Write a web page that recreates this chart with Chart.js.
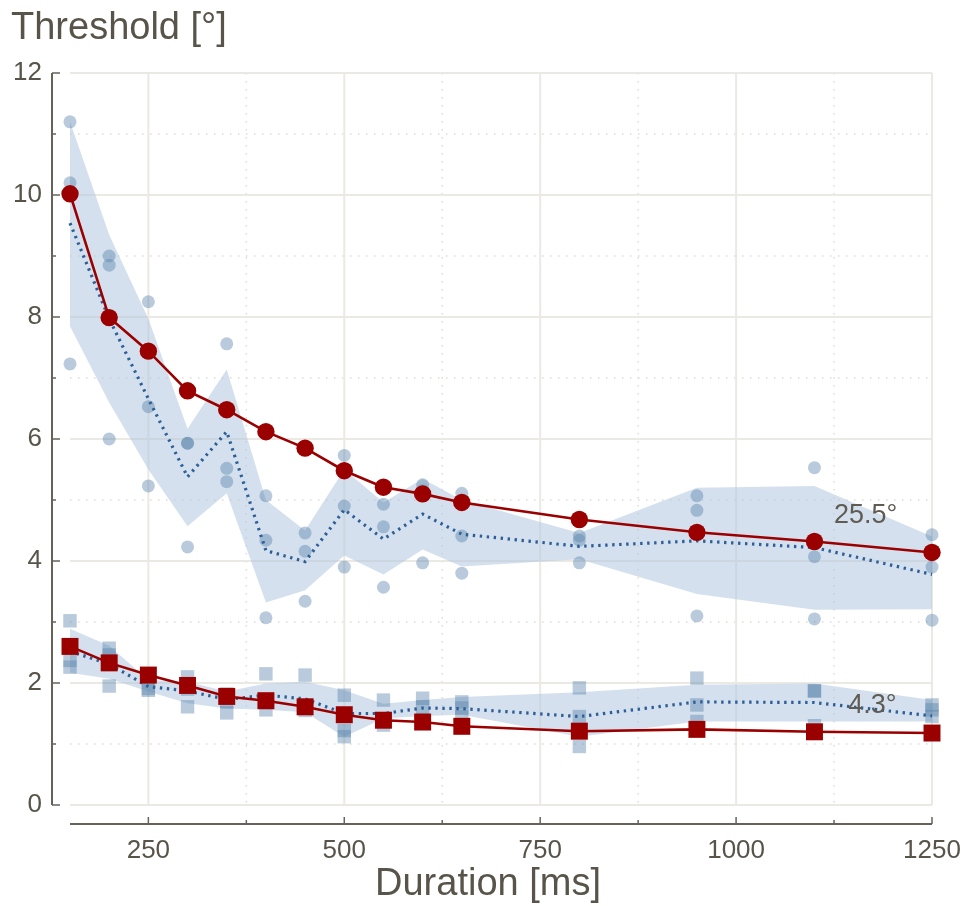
<!DOCTYPE html>
<html>
<head>
<meta charset="utf-8">
<script src="https://cdn.jsdelivr.net/npm/chart.js@4.4.1/dist/chart.umd.min.js"></script>
<style>
  html, body { margin: 0; padding: 0; background: #ffffff; }
  canvas { display: block; }
</style>
</head>
<body>
<canvas id="c" width="968" height="906"></canvas>
<script>
// ---------- data ----------
const durations = [150, 200, 250, 300, 350, 400, 450, 500, 550, 600, 650, 800, 950, 1100, 1250];

// 25.5° condition (circles)
const fitUpper    = [10.02, 7.99, 7.44, 6.79, 6.48, 6.12, 5.85, 5.48, 5.21, 5.10, 4.96, 4.68, 4.47, 4.32, 4.14];
const meanUpper   = [9.54, 7.97, 6.66, 5.38, 6.12, 4.17, 3.99, 4.84, 4.36, 4.77, 4.44, 4.24, 4.33, 4.22, 3.78];
const bandUpperHi = [11.2, 9.35, 7.97, 6.17, 7.14, 5.0, 4.5, 5.5, 4.96, 5.35, 5.0, 4.46, 5.2, 5.23, 4.4];
const bandUpperLo = [7.85, 6.6, 5.5, 4.57, 5.11, 3.32, 3.52, 4.09, 3.78, 4.19, 3.91, 4.03, 3.46, 3.2, 3.21];
const subjAUpper  = [11.2, 9.0, 8.25, 5.93, 7.56, 5.07, 4.46, 5.73, 4.93, 5.25, 5.11, 4.41, 5.07, 5.53, 4.43];
const subjBUpper  = [10.2, 8.85, 6.53, 5.93, 5.52, 4.34, 4.16, 4.90, 4.56, 5.15, 4.41, 4.34, 4.83, 4.07, 3.90];
const subjCUpper  = [7.23, 6.0, 5.23, 4.23, 5.30, 3.07, 3.34, 3.90, 3.57, 3.97, 3.80, 3.97, 3.10, 3.05, 3.03];

// 4.3° condition (squares)
const fitLower    = [2.60, 2.33, 2.13, 1.96, 1.78, 1.71, 1.61, 1.48, 1.39, 1.36, 1.29, 1.21, 1.24, 1.20, 1.18];
const meanLower   = [2.52, 2.31, 1.94, 1.87, 1.73, 1.80, 1.74, 1.50, 1.50, 1.59, 1.58, 1.45, 1.69, 1.68, 1.46];
const bandLowerHi = [2.89, 2.61, 2.05, 2.02, 1.86, 1.99, 2.02, 1.88, 1.66, 1.72, 1.77, 1.85, 1.97, 1.99, 1.72];
const bandLowerLo = [2.17, 2.07, 1.86, 1.67, 1.58, 1.56, 1.52, 1.12, 1.42, 1.46, 1.48, 1.12, 1.37, 1.37, 1.37];
const subjALower  = [3.02, 2.57, 2.10, 2.10, 1.82, 2.15, 2.13, 1.80, 1.72, 1.75, 1.69, 1.92, 2.08, 1.87, 1.64];
const subjBLower  = [2.37, 2.46, 1.91, 1.90, 1.69, 1.72, 1.62, 1.22, 1.40, 1.61, 1.59, 1.45, 1.64, 1.87, 1.56];
const subjCLower  = [2.26, 1.95, 1.88, 1.61, 1.51, 1.56, 1.55, 1.12, 1.31, 1.40, 1.45, 0.96, 1.37, 1.30, 1.45];

// axes
const xTicks = [250, 500, 750, 1000, 1250];
const xMinorTicks = [375, 625, 875, 1125];
const yTicks = [0, 2, 4, 6, 8, 10, 12];
const yMinorTicks = [1, 3, 5, 7, 9, 11];
const xRange = [150, 1250];
const yRange = [0, 12];
const yTitle = 'Threshold [°]';
const xTitle = 'Duration [ms]';
const labels = [{text: '25.5°', x: 1125, y: 4.62}, {text: '4.3°', x: 1143, y: 1.51}];

// ---------- styling ----------
const FONT = "'Liberation Sans', Arial, Helvetica, sans-serif";
const TEXT = '#58544a';
const AXIS = '#66625a';
const RED = '#9a0000';
const BLUE = '#2c5f98';
const BAND = 'rgba(176,198,222,0.55)';
const DOT = 'rgba(86,129,169,0.42)';

const pts = ys => durations.map((d, i) => ({x: d, y: ys[i]}));

const bandDs = (ys, fill) => ({
  data: pts(ys), borderWidth: 0, pointRadius: 0, fill: fill,
  backgroundColor: BAND, borderColor: 'rgba(0,0,0,0)', order: 10, clip: false, tension: 0
});
const dotDs = (ys, style, r) => ({
  data: pts(ys), showLine: false, pointStyle: style, pointRadius: r, pointBorderWidth: 0,
  pointBackgroundColor: DOT, backgroundColor: DOT, borderColor: 'rgba(0,0,0,0)', order: 8, clip: false
});
const meanDs = ys => ({
  data: pts(ys), borderColor: BLUE, borderWidth: 3.2, borderDash: [2.4, 4.6], pointRadius: 0,
  fill: false, order: 5, clip: false, tension: 0
});
const fitDs = (ys, style, r) => ({
  data: pts(ys), borderColor: RED, borderWidth: 2.6, pointStyle: style, pointRadius: r,
  pointBackgroundColor: RED, pointBorderWidth: 0, backgroundColor: RED, fill: false, order: 1, clip: false, tension: 0
});

const line = (ctx, x1, y1, x2, y2) => { ctx.beginPath(); ctx.moveTo(x1, y1); ctx.lineTo(x2, y2); ctx.stroke(); };

const decor = {
  id: 'decor',
  beforeDatasetsDraw(chart) {
    const {ctx, chartArea: a, scales: {x, y}} = chart;
    ctx.save();
    ctx.lineCap = 'butt';
    // minor dotted grid
    ctx.strokeStyle = '#dedbd4'; ctx.lineWidth = 1.5; ctx.setLineDash([1.5, 6.5]);
    yMinorTicks.forEach(v => { const p = y.getPixelForValue(v); line(ctx, a.left, p, a.right, p); });
    xMinorTicks.forEach(v => { const p = x.getPixelForValue(v); line(ctx, p, a.top, p, a.bottom); });
    // major grid
    ctx.setLineDash([]); ctx.strokeStyle = '#ebe9e3'; ctx.lineWidth = 2;
    yTicks.forEach(v => { const p = y.getPixelForValue(v); line(ctx, a.left, p, a.right, p); });
    xTicks.forEach(v => { const p = x.getPixelForValue(v); line(ctx, p, a.top, p, a.bottom); });
    ctx.restore();
  },
  afterDatasetsDraw(chart) {
    const {ctx, chartArea: a, scales: {x, y}} = chart;
    ctx.save();
    // offset axis lines
    const ax = a.left - 18, ay = a.bottom + 19;
    ctx.strokeStyle = AXIS; ctx.lineWidth = 2;
    line(ctx, ax, y.getPixelForValue(yRange[1]), ax, y.getPixelForValue(yRange[0]));
    line(ctx, x.getPixelForValue(xRange[0]), ay, x.getPixelForValue(xRange[1]), ay);
    ctx.lineWidth = 1.5;
    yTicks.forEach(v => { const p = y.getPixelForValue(v); line(ctx, ax, p, ax + 8, p); });
    yMinorTicks.forEach(v => { const p = y.getPixelForValue(v); line(ctx, ax, p, ax + 4, p); });
    xTicks.forEach(v => { const p = x.getPixelForValue(v); line(ctx, p, ay, p, ay - 7); });
    xMinorTicks.forEach(v => { const p = x.getPixelForValue(v); line(ctx, p, ay, p, ay - 4); });
    // titles
    ctx.fillStyle = TEXT;
    ctx.font = '38px ' + FONT;
    ctx.textBaseline = 'alphabetic';
    ctx.textAlign = 'left';
    ctx.fillText(yTitle, 11, 39);
    ctx.textAlign = 'center';
    ctx.fillText(xTitle, 488, 895);
    // condition labels
    ctx.fillStyle = '#605c54';
    ctx.font = '27px ' + FONT;
    ctx.textAlign = 'left';
    labels.forEach(l => ctx.fillText(l.text, x.getPixelForValue(l.x), y.getPixelForValue(l.y)));
    ctx.restore();
  }
};

new Chart(document.getElementById('c'), {
  type: 'line',
  data: {
    datasets: [
      bandDs(bandUpperLo, false),
      bandDs(bandUpperHi, '-1'),
      bandDs(bandLowerLo, false),
      bandDs(bandLowerHi, '-1'),
      dotDs(subjAUpper, 'circle', 6.5),
      dotDs(subjBUpper, 'circle', 6.5),
      dotDs(subjCUpper, 'circle', 6.5),
      dotDs(subjALower, 'rect', 9.5),
      dotDs(subjBLower, 'rect', 9.5),
      dotDs(subjCLower, 'rect', 9.5),
      meanDs(meanUpper),
      meanDs(meanLower),
      fitDs(fitUpper, 'circle', 8.7),
      fitDs(fitLower, 'rect', 12)
    ]
  },
  options: {
    responsive: false,
    animation: false,
    layout: { padding: { left: 12, right: 36, top: 73, bottom: 0 } },
    plugins: { legend: { display: false }, tooltip: { enabled: false }, title: { display: false } },
    scales: {
      x: {
        type: 'linear', min: xRange[0], max: xRange[1],
        grid: { display: false, drawTicks: true, tickLength: 30 }, border: { display: false },
        afterBuildTicks: s => { s.ticks = xTicks.map(v => ({value: v})); },
        afterFit: s => { s.height = 101; },
        ticks: { padding: 0, color: TEXT, font: { size: 26, family: FONT }, maxRotation: 0, autoSkip: false,
                 callback: v => String(v) }
      },
      y: {
        type: 'linear', min: yRange[0], max: yRange[1],
        grid: { display: false, drawTicks: true, tickLength: 28 }, border: { display: false },
        afterBuildTicks: s => { s.ticks = yTicks.map(v => ({value: v})); },
        afterFit: s => { s.width = 58; },
        ticks: { padding: 0, color: TEXT, font: { size: 26, family: FONT }, callback: v => String(v) }
      }
    }
  },
  plugins: [decor]
});
</script>
</body>
</html>
